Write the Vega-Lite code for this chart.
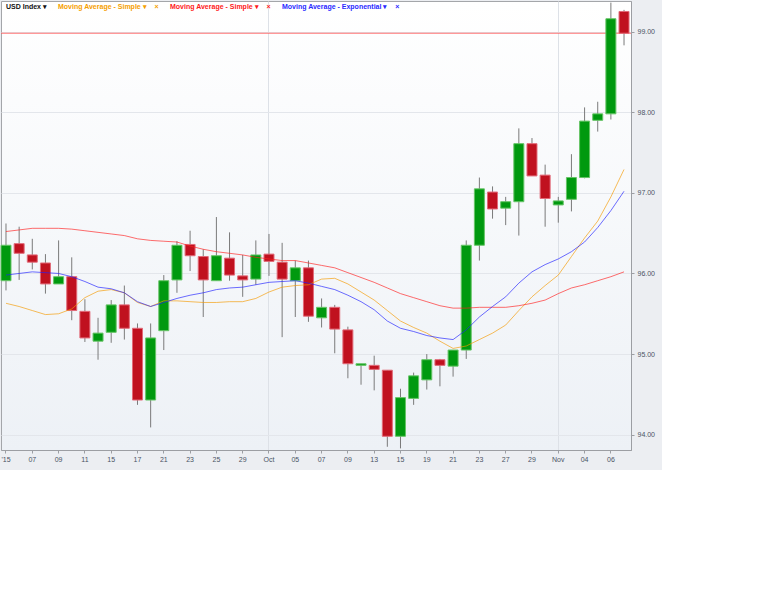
{
  "$schema": "https://vega.github.io/schema/vega-lite/v6.json",
  "autosize": {"type": "none"},
  "width": 630,
  "height": 449,
  "padding": {"left": 1, "top": 1, "right": 31, "bottom": 20},
  "background": "#eceef2",
  "config": {
    "font": "Liberation Sans",
    "view": {
      "fill": {"gradient": "linear", "x1": 0, "y1": 0, "x2": 0, "y2": 1, "stops": [{"offset": 0, "color": "#ffffff"}, {"offset": 1, "color": "#edf1f6"}]},
      "stroke": "#a4a6aa",
      "strokeWidth": 1
    }
  },
  "data": {"values": [
    {"date": "2015-09-03", "open": 95.91, "high": 96.62, "low": 95.79, "close": 96.35, "smaFast": 95.63, "smaSlow": 96.52, "ema": 95.98},
    {"date": "2015-09-04", "open": 96.37, "high": 96.58, "low": 95.92, "close": 96.25, "smaFast": 95.59, "smaSlow": 96.54, "ema": 96.00},
    {"date": "2015-09-07", "open": 96.23, "high": 96.43, "low": 96.05, "close": 96.14, "smaFast": 95.54, "smaSlow": 96.56, "ema": 96.02},
    {"date": "2015-09-08", "open": 96.13, "high": 96.24, "low": 95.75, "close": 95.87, "smaFast": 95.49, "smaSlow": 96.56, "ema": 96.01},
    {"date": "2015-09-09", "open": 95.87, "high": 96.41, "low": 95.87, "close": 95.96, "smaFast": 95.50, "smaSlow": 96.56, "ema": 96.00},
    {"date": "2015-09-10", "open": 95.96, "high": 96.20, "low": 95.42, "close": 95.54, "smaFast": 95.56, "smaSlow": 96.55, "ema": 95.96},
    {"date": "2015-09-11", "open": 95.53, "high": 95.68, "low": 95.15, "close": 95.20, "smaFast": 95.70, "smaSlow": 96.53, "ema": 95.90},
    {"date": "2015-09-14", "open": 95.16, "high": 95.45, "low": 94.93, "close": 95.26, "smaFast": 95.78, "smaSlow": 96.51, "ema": 95.83},
    {"date": "2015-09-15", "open": 95.27, "high": 95.67, "low": 95.14, "close": 95.61, "smaFast": 95.80, "smaSlow": 96.49, "ema": 95.81},
    {"date": "2015-09-16", "open": 95.61, "high": 95.85, "low": 95.18, "close": 95.32, "smaFast": 95.76, "smaSlow": 96.47, "ema": 95.76},
    {"date": "2015-09-17", "open": 95.32, "high": 95.38, "low": 94.37, "close": 94.43, "smaFast": 95.64, "smaSlow": 96.43, "ema": 95.65},
    {"date": "2015-09-18", "open": 94.43, "high": 95.38, "low": 94.09, "close": 95.20, "smaFast": 95.59, "smaSlow": 96.41, "ema": 95.59},
    {"date": "2015-09-21", "open": 95.29, "high": 95.98, "low": 95.05, "close": 95.91, "smaFast": 95.66, "smaSlow": 96.40, "ema": 95.64},
    {"date": "2015-09-22", "open": 95.92, "high": 96.40, "low": 95.76, "close": 96.35, "smaFast": 95.66, "smaSlow": 96.39, "ema": 95.69},
    {"date": "2015-09-23", "open": 96.36, "high": 96.53, "low": 96.03, "close": 96.22, "smaFast": 95.65, "smaSlow": 96.34, "ema": 95.73},
    {"date": "2015-09-24", "open": 96.21, "high": 96.30, "low": 95.46, "close": 95.92, "smaFast": 95.64, "smaSlow": 96.30, "ema": 95.76},
    {"date": "2015-09-25", "open": 95.91, "high": 96.70, "low": 95.91, "close": 96.22, "smaFast": 95.64, "smaSlow": 96.27, "ema": 95.80},
    {"date": "2015-09-28", "open": 96.19, "high": 96.51, "low": 95.91, "close": 95.98, "smaFast": 95.65, "smaSlow": 96.25, "ema": 95.82},
    {"date": "2015-09-29", "open": 95.97, "high": 96.23, "low": 95.71, "close": 95.92, "smaFast": 95.65, "smaSlow": 96.23, "ema": 95.83},
    {"date": "2015-09-30", "open": 95.93, "high": 96.41, "low": 95.86, "close": 96.23, "smaFast": 95.69, "smaSlow": 96.20, "ema": 95.86},
    {"date": "2015-10-01", "open": 96.24, "high": 96.49, "low": 95.97, "close": 96.15, "smaFast": 95.77, "smaSlow": 96.18, "ema": 95.89},
    {"date": "2015-10-02", "open": 96.14, "high": 96.38, "low": 95.21, "close": 95.93, "smaFast": 95.83, "smaSlow": 96.16, "ema": 95.90},
    {"date": "2015-10-05", "open": 95.91, "high": 96.16, "low": 95.46, "close": 96.07, "smaFast": 95.85, "smaSlow": 96.16, "ema": 95.91},
    {"date": "2015-10-06", "open": 96.07, "high": 96.16, "low": 95.40, "close": 95.47, "smaFast": 95.86, "smaSlow": 96.13, "ema": 95.88},
    {"date": "2015-10-07", "open": 95.45, "high": 95.69, "low": 95.33, "close": 95.58, "smaFast": 95.93, "smaSlow": 96.10, "ema": 95.84},
    {"date": "2015-10-08", "open": 95.58, "high": 95.61, "low": 95.01, "close": 95.31, "smaFast": 95.94, "smaSlow": 96.07, "ema": 95.80},
    {"date": "2015-10-09", "open": 95.30, "high": 95.34, "low": 94.70, "close": 94.88, "smaFast": 95.87, "smaSlow": 96.01, "ema": 95.73},
    {"date": "2015-10-12", "open": 94.86, "high": 94.88, "low": 94.62, "close": 94.88, "smaFast": 95.77, "smaSlow": 95.95, "ema": 95.65},
    {"date": "2015-10-13", "open": 94.86, "high": 94.98, "low": 94.55, "close": 94.81, "smaFast": 95.67, "smaSlow": 95.89, "ema": 95.55},
    {"date": "2015-10-14", "open": 94.80, "high": 94.80, "low": 93.85, "close": 93.98, "smaFast": 95.54, "smaSlow": 95.82, "ema": 95.41},
    {"date": "2015-10-15", "open": 93.98, "high": 94.57, "low": 93.83, "close": 94.46, "smaFast": 95.41, "smaSlow": 95.75, "ema": 95.32},
    {"date": "2015-10-16", "open": 94.45, "high": 94.77, "low": 94.37, "close": 94.73, "smaFast": 95.33, "smaSlow": 95.70, "ema": 95.28},
    {"date": "2015-10-19", "open": 94.68, "high": 95.00, "low": 94.56, "close": 94.93, "smaFast": 95.26, "smaSlow": 95.65, "ema": 95.23},
    {"date": "2015-10-20", "open": 94.93, "high": 94.94, "low": 94.60, "close": 94.86, "smaFast": 95.16, "smaSlow": 95.60, "ema": 95.20},
    {"date": "2015-10-21", "open": 94.85, "high": 95.05, "low": 94.72, "close": 95.05, "smaFast": 95.07, "smaSlow": 95.57, "ema": 95.18},
    {"date": "2015-10-22", "open": 95.05, "high": 96.41, "low": 94.94, "close": 96.35, "smaFast": 95.10, "smaSlow": 95.57, "ema": 95.30},
    {"date": "2015-10-23", "open": 96.35, "high": 97.19, "low": 96.16, "close": 97.05, "smaFast": 95.18, "smaSlow": 95.58, "ema": 95.46},
    {"date": "2015-10-26", "open": 97.01, "high": 97.08, "low": 96.68, "close": 96.80, "smaFast": 95.26, "smaSlow": 95.58, "ema": 95.59},
    {"date": "2015-10-27", "open": 96.81, "high": 96.95, "low": 96.60, "close": 96.89, "smaFast": 95.36, "smaSlow": 95.58, "ema": 95.71},
    {"date": "2015-10-28", "open": 96.89, "high": 97.80, "low": 96.47, "close": 97.61, "smaFast": 95.54, "smaSlow": 95.60, "ema": 95.88},
    {"date": "2015-10-29", "open": 97.61, "high": 97.68, "low": 97.21, "close": 97.21, "smaFast": 95.71, "smaSlow": 95.63, "ema": 96.02},
    {"date": "2015-10-30", "open": 97.22, "high": 97.35, "low": 96.58, "close": 96.93, "smaFast": 95.85, "smaSlow": 95.67, "ema": 96.11},
    {"date": "2015-11-02", "open": 96.85, "high": 96.95, "low": 96.63, "close": 96.90, "smaFast": 95.98, "smaSlow": 95.75, "ema": 96.18},
    {"date": "2015-11-03", "open": 96.92, "high": 97.48, "low": 96.77, "close": 97.19, "smaFast": 96.21, "smaSlow": 95.82, "ema": 96.27},
    {"date": "2015-11-04", "open": 97.19, "high": 98.06, "low": 97.18, "close": 97.89, "smaFast": 96.44, "smaSlow": 95.86, "ema": 96.39},
    {"date": "2015-11-05", "open": 97.90, "high": 98.13, "low": 97.76, "close": 97.98, "smaFast": 96.65, "smaSlow": 95.91, "ema": 96.57},
    {"date": "2015-11-06", "open": 97.98, "high": 99.36, "low": 97.91, "close": 99.16, "smaFast": 96.95, "smaSlow": 95.96, "ema": 96.78},
    {"date": "2015-11-09", "open": 99.25, "high": 99.27, "low": 98.83, "close": 98.98, "smaFast": 97.29, "smaSlow": 96.02, "ema": 97.02}
  ]},
  "layer": [
    {
      "data": {"values": [{"lastClose": 98.98}]},
      "mark": {"type": "rule", "color": "#ff5c5c", "strokeWidth": 1, "opacity": 0.85},
      "encoding": {
        "y": {"field": "lastClose", "type": "quantitative", "title": null,
          "scale": {"domain": [93.81, 99.38], "nice": false, "zero": false},
          "axis": {"orient": "right", "values": [94, 95, 96, 97, 98, 99], "format": ".2f", "title": null,
            "grid": true, "gridColor": "#e3e6eb", "domainColor": "#9c9ea3", "tickColor": "#9c9ea3", "tickSize": 3,
            "labelFont": "Liberation Sans", "labelFontSize": 7, "labelColor": "#4a5364", "labelPadding": 3}}
      }
    },
    {
      "mark": {"type": "rule", "color": "#7a7a7a", "strokeWidth": 1},
      "encoding": {
        "x": {"field": "date", "type": "ordinal", "title": null,
          "scale": {"type": "band", "paddingInner": 0.24, "paddingOuter": 0.075, "align": 0, "round": false},
          "axis": {"title": null, "bandPosition": 0.5, "labelAngle": 0, "labelOverlap": false,
            "values": ["2015-09-03","2015-09-07","2015-09-09","2015-09-11","2015-09-15","2015-09-17","2015-09-21","2015-09-23","2015-09-25","2015-09-29","2015-10-01","2015-10-05","2015-10-07","2015-10-09","2015-10-13","2015-10-15","2015-10-19","2015-10-21","2015-10-23","2015-10-27","2015-10-29","2015-11-02","2015-11-04","2015-11-06"],
            "labelExpr": "datum.value == '2015-09-03' ? \"'15\" : datum.value == '2015-10-01' ? 'Oct' : datum.value == '2015-11-02' ? 'Nov' : slice(datum.value, 8)",
            "labelFont": "Liberation Sans", "labelFontSize": 7, "labelColor": "#4a5364", "labelPadding": 2,
            "domainColor": "#9c9ea3", "tickColor": "#9c9ea3", "tickSize": 3,
            "grid": true, "gridColor": "#dde1e7",
            "gridOpacity": {"condition": {"test": "datum.value == '2015-10-01' || datum.value == '2015-11-02'", "value": 1}, "value": 0}}},
        "y": {"field": "low", "type": "quantitative", "title": null},
        "y2": {"field": "high"}
      }
    },
    {
      "mark": {"type": "bar", "strokeWidth": 1},
      "encoding": {
        "x": {"field": "date", "type": "ordinal", "title": null},
        "y": {"field": "open", "type": "quantitative", "title": null},
        "y2": {"field": "close"},
        "fill": {"condition": {"test": "datum.close < datum.open", "value": "#c0111f"}, "value": "#00990f"},
        "stroke": {"condition": {"test": "datum.close < datum.open", "value": "#e26a78"}, "value": "#66c466"}
      }
    },
    {
      "transform": [{"fold": ["smaFast", "smaSlow", "ema"], "as": ["series", "value"]}],
      "mark": {"type": "line", "strokeWidth": 1, "opacity": 0.65},
      "encoding": {
        "x": {"field": "date", "type": "ordinal", "title": null},
        "y": {"field": "value", "type": "quantitative", "title": null},
        "color": {"field": "series", "type": "nominal",
          "scale": {"domain": ["idx", "smaFast", "smaSlow", "ema"], "range": ["#000000", "#f59a00", "#ff1f1f", "#1f1fff"]},
          "legend": {"orient": "none", "legendX": -2, "legendY": 2, "direction": "horizontal", "columns": 4, "title": null,
            "symbolSize": 0, "symbolOpacity": 0, "symbolStrokeWidth": 0, "labelOffset": 0, "columnPadding": 4, "padding": 0,
            "labelFont": "Liberation Sans", "labelFontSize": 7, "labelFontWeight": "bold", "labelLimit": 0,
            "labelExpr": "datum.value == 'idx' ? 'USD Index ▾' : datum.value == 'ema' ? 'Moving Average - Exponential ▾\u00a0\u00a0\u00a0\u00a0×' : 'Moving Average - Simple ▾\u00a0\u00a0\u00a0\u00a0×'",
            "labelColor": {"expr": "datum.value == 'smaFast' ? '#f5a000' : datum.value == 'smaSlow' ? '#ff1a1a' : datum.value == 'ema' ? '#2a2aff' : '#111111'"}}}
      }
    }
  ]
}
